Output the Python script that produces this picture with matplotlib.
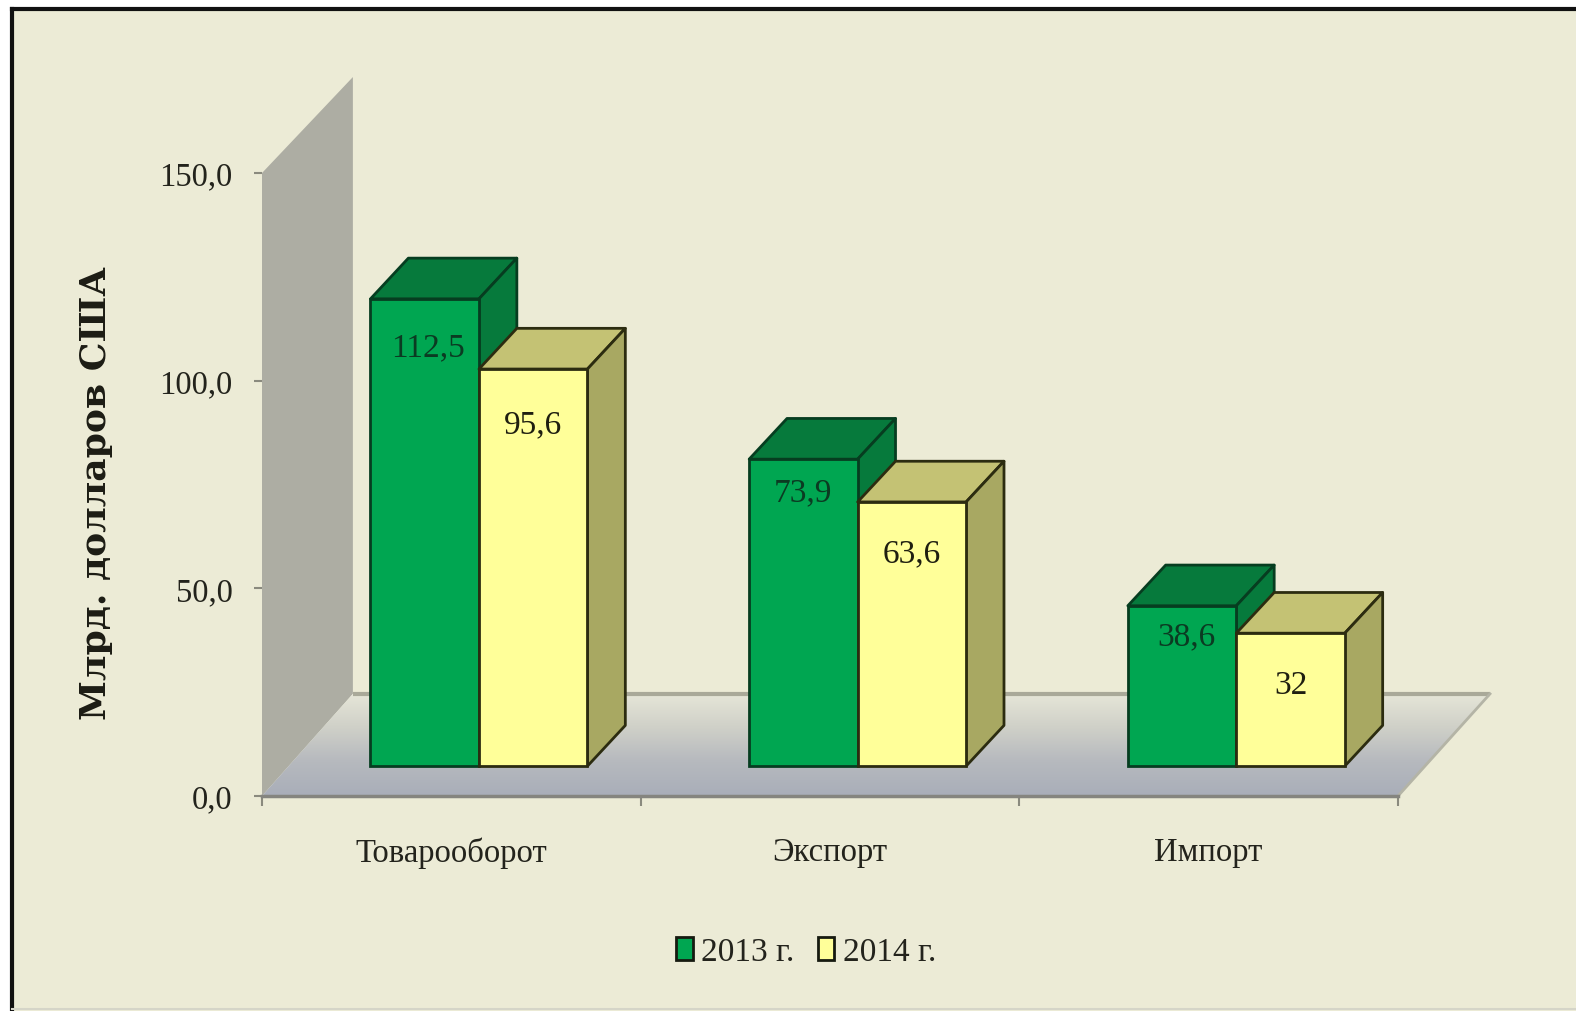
# Bar chart with fake 3D depth
import numpy as np
import matplotlib
matplotlib.use('Agg')
import matplotlib.pyplot as plt
from matplotlib.colors import LinearSegmentedColormap
from matplotlib.lines import Line2D
from matplotlib.patches import Patch, Polygon, Rectangle

# Data
categories = ['Товарооборот', 'Экспорт', 'Импорт']
series_names = ['2013 г.', '2014 г.']
values_2013 = [112.5, 73.9, 38.6]
values_2014 = [95.6, 63.6, 32]
labels_2013 = ['112,5', '73,9', '38,6']
labels_2014 = ['95,6', '63,6', '32']
y_ticks = [0, 50, 100, 150]
y_tick_labels = ['0,0', '50,0', '100,0', '150,0']
y_title = 'Млрд. долларов США'

W, H = 1576, 1012
BG = '#ecebd6'
TEXT = '#23231c'
FONT = 'Liberation Serif'

# Pseudo 3D geometry, in axis units
BAR_W = 0.2865
BAR_START = 0.2865
BAR_BASE = 7.2
BAR_DX = 0.10
BAR_DY = 9.8
WALL_DX = 0.24
WALL_DY = 24.6
WALL_TOP_DY = 23.1
FLOOR_RIGHT = 3.243

plt.rcParams['font.family'] = [FONT, 'DejaVu Serif']

fig = plt.figure(figsize=(W / 100, H / 100), dpi=100, facecolor='white')
fig.add_artist(Rectangle((12 / W, 0), 1, 1 - 10 / H, transform=fig.transFigure,
                         facecolor=BG, edgecolor='none', zorder=-5))
fig.add_artist(Line2D([12 / W, 12 / W], [2 / H, 1 - 10 / H], color='#111111', lw=3))
fig.add_artist(Line2D([12 / W, 1], [1 - 10 / H, 1 - 10 / H], color='#111111', lw=3))
fig.add_artist(Line2D([12 / W, 1], [2 / H, 2 / H], color='#d5d5c8', lw=1.5))

ax = fig.add_axes([262 / W, 1 - 797 / H, (1398 - 262) / W, (797 - 174) / H])
ax.patch.set_visible(False)

# Back wall
ax.add_patch(Polygon([(0, 0), (0, 150), (WALL_DX, 150 + WALL_TOP_DY), (WALL_DX, WALL_DY)],
                     closed=True, facecolor='#adada3', edgecolor='none', zorder=1, clip_on=False))

# Floor with gradient
floor_pts = [(0, 0), (3, 0), (FLOOR_RIGHT, WALL_DY), (WALL_DX, WALL_DY)]
floor = Polygon(floor_pts, closed=True, facecolor='none', edgecolor='none',
                transform=ax.transData, clip_on=False)
ax.add_patch(floor)
floor_cmap = LinearSegmentedColormap.from_list('floor', ['#a9aeb9', '#b6b9be', '#cfd0c8', '#e6e6d8'])
grad = ax.imshow(np.linspace(0, 1, 128).reshape(-1, 1), cmap=floor_cmap, origin='lower',
                 extent=(0, FLOOR_RIGHT, 0, WALL_DY), aspect='auto', zorder=1.5)
grad.set_clip_path(floor)
grad.set_clip_box(fig.bbox)
ax.plot([WALL_DX, FLOOR_RIGHT], [WALL_DY, WALL_DY], color='#a9a999', lw=3, zorder=1.6,
        clip_on=False, solid_capstyle='butt')
ax.plot([3, FLOOR_RIGHT], [0, WALL_DY], color='#b4b4a6', lw=2, zorder=1.6, clip_on=False)
ax.plot([0, 3], [0, 0], color='#85857f', lw=2.5, zorder=1.6, clip_on=False)

# Bars
series = [
    (values_2013, labels_2013, 0, '#00a651', '#067a3c', '#067a3c', '#063d20', '#0b3b22',
     [11.6, 8.0, 7.2], [0.008, 0, 0.012]),
    (values_2014, labels_2014, 1, '#ffff99', '#c4c274', '#a8a862', '#2c2c10', '#1f1f10',
     [13.3, 12.3, 12.3], [0, 0, 0]),
]
for vals, labs, k, front, top, side, edge, txt, drops, nudges in series:
    z = 3 + k
    xs = np.arange(len(vals)) + BAR_START + k * BAR_W
    ax.bar(xs, vals, width=BAR_W, bottom=BAR_BASE, align='edge', facecolor=front,
           edgecolor=edge, linewidth=2, zorder=z + 0.5)
    for x, v, lab, drop, nudge in zip(xs, vals, labs, drops, nudges):
        t = BAR_BASE + v
        r = x + BAR_W
        ax.add_patch(Polygon([(x, t), (r, t), (r + BAR_DX, t + BAR_DY), (x + BAR_DX, t + BAR_DY)],
                             closed=True, facecolor=top, edgecolor=edge, lw=2, zorder=z,
                             joinstyle='round'))
        ax.add_patch(Polygon([(r, BAR_BASE), (r + BAR_DX, BAR_BASE + BAR_DY),
                              (r + BAR_DX, t + BAR_DY), (r, t)],
                             closed=True, facecolor=side, edgecolor=edge, lw=2, zorder=z,
                             joinstyle='round'))
        ax.text(x + BAR_W / 2 + nudge, t - drop, lab, ha='center', va='center',
                fontsize=24, color=txt, zorder=8)

ax.set_xlim(0, 3)
ax.set_ylim(0, 150)

for s in ax.spines.values():
    s.set_visible(False)

ax.set_yticks(y_ticks)
ax.set_yticklabels(y_tick_labels, fontsize=23.5, color=TEXT)
ax.set_xticks(range(len(categories) + 1))
ax.set_xticklabels([])
ax.set_xticks(np.arange(len(categories)) + 0.5, minor=True)
ax.set_xticklabels(categories, minor=True, fontsize=23.5, color=TEXT)
ax.tick_params(axis='y', length=6, width=1.5, color='#8a8a7e', pad=15)
ax.tick_params(axis='x', which='major', length=7, width=1.5, color='#8a8a7e')
ax.tick_params(axis='x', which='minor', length=0, pad=29)

fig.text(96 / W, 1 - 493 / H, y_title, rotation=90, ha='center', va='center',
         fontsize=26, fontweight='bold', color='#1c1c14', family='DejaVu Serif')

# Legend
handles = [Patch(facecolor=series[i][3], edgecolor='#161a10', linewidth=2, label=series_names[i])
           for i in range(2)]
fig.legend(handles=handles, loc='center', bbox_to_anchor=(806 / W, 1 - 953 / H), ncol=2,
           frameon=False, fontsize=24, labelcolor=TEXT, handlelength=0.5, handleheight=0.7,
           handletextpad=0.25, columnspacing=0.7)

fig.savefig('out.png', dpi=100, facecolor=fig.get_facecolor())
